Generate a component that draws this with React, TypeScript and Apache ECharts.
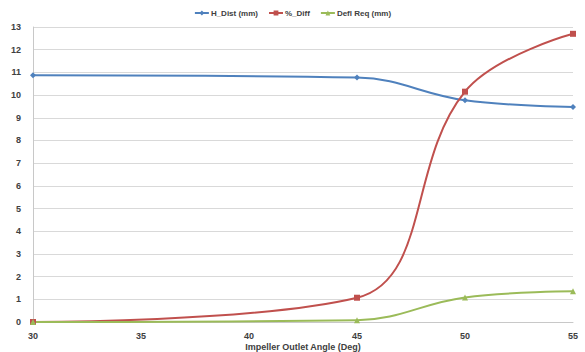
import React, { useEffect, useRef } from "react";
import * as echarts from "echarts";

const xValues = [30, 45, 50, 55];
const hDist = [10.87, 10.77, 9.77, 9.48];
const pctDiff = [0.0, 1.07, 10.15, 12.7];
const deflReq = [0.0, 0.08, 1.08, 1.35];
const seriesNames = ["H_Dist (mm)", "%_Diff", "Defl Req (mm)"];
const colors = ["#4f81bd", "#c0504d", "#9bbb59"];

const pairs = (ys: number[]) => xValues.map((x, i) => [x, ys[i]]);

export default function App() {
  const ref = useRef<HTMLDivElement>(null);
  useEffect(() => {
    const chart = echarts.init(ref.current!, null, { renderer: "svg" });
    const font = "Liberation Sans, Arial, sans-serif";
    chart.setOption({
      animation: false,
      textStyle: { fontFamily: font },
      legend: {
        top: 4,
        left: "center",
        itemWidth: 14,
        itemHeight: 6,
        itemGap: 10,
        textStyle: { fontSize: 8, fontWeight: "bold", color: "#404040", fontFamily: font, padding: [0, 0, 0, -3] },
        data: seriesNames,
      },
      grid: { left: 33, right: 12, top: 27, bottom: 30, outerBoundsMode: "none", containLabel: false },
      xAxis: {
        type: "value",
        min: 30,
        max: 55,
        interval: 5,
        name: "Impeller Outlet Angle (Deg)",
        nameLocation: "middle",
        nameGap: 20,
        nameMoveOverlap: false,
        nameTextStyle: { fontSize: 9, fontWeight: "bold", color: "#404040" },
        axisLine: { lineStyle: { color: "#c8c8c8" } },
        axisTick: { show: false },
        splitLine: { show: false },
        axisLabel: { fontSize: 9, fontWeight: "bold", color: "#404040", margin: 9 },
      },
      yAxis: {
        type: "value",
        min: 0,
        max: 13,
        interval: 1,
        axisLine: { show: true, lineStyle: { color: "#c8c8c8" } },
        axisTick: { show: false },
        splitLine: { lineStyle: { color: "#d9d9d9" } },
        axisLabel: { fontSize: 9, fontWeight: "bold", color: "#404040", margin: 12 },
      },
      series: [
        { name: seriesNames[0], type: "line", data: pairs(hDist), smooth: 0.4, symbol: "diamond", symbolSize: 6,
          lineStyle: { width: 2, color: colors[0] }, itemStyle: { color: colors[0] } },
        { name: seriesNames[1], type: "line", data: pairs(pctDiff), smooth: 0.4, symbol: "rect", symbolSize: 6,
          lineStyle: { width: 2, color: colors[1] }, itemStyle: { color: colors[1] } },
        { name: seriesNames[2], type: "line", data: pairs(deflReq), smooth: 0.4, symbol: "triangle", symbolSize: 6,
          lineStyle: { width: 2, color: colors[2] }, itemStyle: { color: colors[2] } },
      ],
    });
    return () => chart.dispose();
  }, []);
  return <div ref={ref} style={{ width: 585, height: 352, position: "absolute", left: 0, top: 0 }} />;
}
